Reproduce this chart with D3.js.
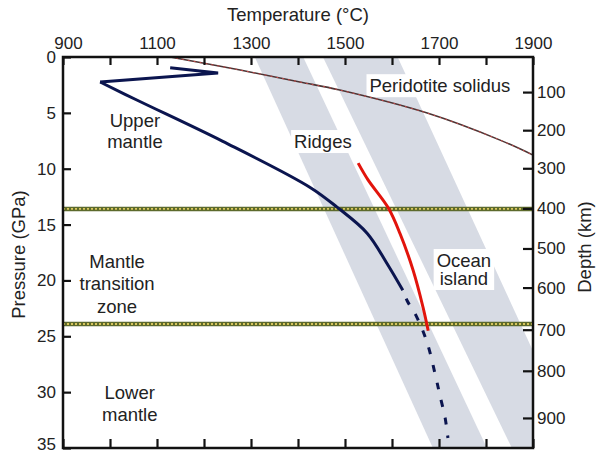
<!DOCTYPE html>
<html>
<head>
<meta charset="utf-8">
<script src="https://cdn.jsdelivr.net/npm/d3@7"></script>
<style>
  body { margin: 0; background: #fff; }
  text { font-family: "Liberation Sans", Arial, sans-serif; fill: #222; }
</style>
</head>
<body>
<svg id="chart" width="596" height="455"></svg>
<script>
"use strict";

// Temperature ticks (top axis), pressure ticks (left axis)
const tempTicks = [900, 1000, 1100, 1200, 1300, 1400, 1500, 1600, 1700, 1800, 1900];
const pressureTicks = [0, 5, 10, 15, 20, 25, 30, 35];

// Depth axis: km and the pressure (GPa) each depth sits at
const depthKm  = [0, 100, 200, 300, 400, 500, 600, 700, 800, 900];
const depthGPa = [0, 3.14, 6.55, 9.96, 13.55, 17.14, 20.64, 24.41, 28.09, 32.31];

// Discontinuities (GPa)
const discontinuities = [13.6, 23.9];

// Navy geotherm: zigzag near the surface, then the adiabat, then the dashed tail
const navyTopT = [1128, 1230, 979];
const navyTopP = [0.96, 1.43, 2.24];
const navyMainT = [979, 1057, 1240, 1425, 1483, 1547, 1589, 1623];
const navyMainP = [2.24, 3.85, 7.55, 11.65, 13.44, 15.77, 18.46, 20.88];
const navyDashT = [1623, 1632, 1653, 1675, 1694, 1702, 1713, 1719];
const navyDashP = [20.88, 21.8, 23.3, 25.6, 28.8, 30.3, 32.3, 34.1];

// Red curve
const redT = [1528, 1549, 1592, 1617, 1645, 1666, 1677];
const redP = [9.5, 11.0, 13.5, 15.8, 19.1, 22.4, 24.5];

// Peridotite solidus
const solidusT = [1128, 1277, 1404, 1489, 1675, 1830, 1900];
const solidusP = [0, 1.17, 2.24, 2.96, 5.02, 7.44, 8.78];

// Grey bands: [T at P=0, T at P=35] for left and right edges
const ridgeBand = { left: [1308, 1687], right: [1411, 1802] };
const oceanBand = { left: [1453, 1855], right: [1612, 1995] };

const svg = d3.select("#chart");
const W = 596, H = 455;
const margin = { top: 57, right: 63, bottom: 7, left: 63 };

const x = d3.scaleLinear().domain([900, 1900]).range([margin.left, W - margin.right]);
const y = d3.scaleLinear().domain([0, 35]).range([margin.top, H - margin.bottom]);
const depthY = d3.scaleLinear().domain(depthKm).range(depthGPa.map(y));

const zip = (a, b) => a.map((v, i) => [v, b[i]]);

svg.append("rect").attr("width", W).attr("height", H).attr("fill", "#fff");

svg.append("clipPath").attr("id", "plot")
  .append("rect")
  .attr("x", x(900)).attr("y", y(0))
  .attr("width", x(1900) - x(900)).attr("height", y(35) - y(0));

const plot = svg.append("g").attr("clip-path", "url(#plot)");

// bands
[ridgeBand, oceanBand].forEach(b => {
  const pts = [[b.left[0], 0], [b.right[0], 0], [b.right[1], 35], [b.left[1], 35]];
  plot.append("path")
    .attr("d", d3.line().x(d => x(d[0])).y(d => y(d[1]))(pts) + "Z")
    .attr("fill", "#d7dbe4");
});

// labels, some with a white box behind them
function label(g, lines, T, P, lh, boxed) {
  const t = g.append("text")
    .attr("text-anchor", "middle")
    .attr("font-size", 18.5);
  lines.forEach((s, i) => {
    t.append("tspan").attr("x", x(T)).attr("y", y(P) + i * lh).text(s);
  });
  if (boxed) {
    const bb = t.node().getBBox();
    g.insert("rect", "text")
      .attr("x", bb.x - 3).attr("y", bb.y - 1)
      .attr("width", bb.width + 6).attr("height", bb.height + 2)
      .attr("fill", "#fff");
  }
  return t;
}

const labels = plot.append("g");
label(labels.append("g"), ["Peridotite solidus"], 1702, 3.15, 20, true);
label(labels.append("g"), ["Ridges"], 1453, 8.15, 20, true);
label(labels.append("g"), ["Ocean", "island"], 1753, 18.8, 18, true);
label(labels.append("g"), ["Upper", "mantle"], 1053, 6.3, 21, false);
label(labels.append("g"), ["Mantle", "transition", "zone"], 1015, 18.85, 22.5, false);
label(labels.append("g"), ["Lower", "mantle"], 1042, 30.6, 22, false);

// discontinuities
discontinuities.forEach(p => {
  plot.append("line")
    .attr("x1", x(900)).attr("x2", x(1900)).attr("y1", y(p)).attr("y2", y(p))
    .attr("stroke", "#5d6a2c").attr("stroke-width", 4.5);
  plot.append("line")
    .attr("x1", x(900)).attr("x2", x(1900)).attr("y1", y(p)).attr("y2", y(p))
    .attr("stroke", "#d8c65c").attr("stroke-width", 1.8)
    .attr("stroke-dasharray", "2,2");
});

const lin = d3.line().x(d => x(d[0])).y(d => y(d[1]));
const smooth = d3.line().x(d => x(d[0])).y(d => y(d[1])).curve(d3.curveCatmullRom);

// solidus
plot.append("path").attr("d", smooth(zip(solidusT, solidusP)))
  .attr("fill", "none").attr("stroke", "#4a3434").attr("stroke-width", 1.6);
plot.append("path").attr("d", smooth(zip(solidusT, solidusP)))
  .attr("fill", "none").attr("stroke", "#d44a4a").attr("stroke-width", 0.9)
  .attr("stroke-dasharray", "2,4");

// navy geotherm
const navy = "#0b154f";
plot.append("path").attr("d", lin(zip(navyTopT, navyTopP)))
  .attr("fill", "none").attr("stroke", navy).attr("stroke-width", 3)
  .attr("stroke-linejoin", "miter");
plot.append("path").attr("d", smooth(zip(navyMainT, navyMainP)))
  .attr("fill", "none").attr("stroke", navy).attr("stroke-width", 3);
plot.append("path").attr("d", smooth(zip(navyDashT, navyDashP)))
  .attr("fill", "none").attr("stroke", navy).attr("stroke-width", 3)
  .attr("stroke-dasharray", "7,11").attr("stroke-dashoffset", -9);

// red
plot.append("path").attr("d", smooth(zip(redT, redP)))
  .attr("fill", "none").attr("stroke", "#e2140c").attr("stroke-width", 3);

// axes
const fmt = d => ((d - 900) % 200 === 0 ? d : "");
const axTop = svg.append("g").attr("transform", `translate(0,${y(0)})`)
  .call(d3.axisTop(x).tickValues(tempTicks).tickFormat(fmt).tickSizeInner(-8).tickSizeOuter(0).tickPadding(8));
const axBottom = svg.append("g").attr("transform", `translate(0,${y(35)})`)
  .call(d3.axisBottom(x).tickValues(tempTicks).tickFormat("").tickSizeInner(-9).tickSizeOuter(0));
const axLeft = svg.append("g").attr("transform", `translate(${x(900)},0)`)
  .call(d3.axisLeft(y).tickValues(pressureTicks).tickSizeInner(-8).tickSizeOuter(0).tickPadding(7));
const axRight = svg.append("g").attr("transform", `translate(${x(1900)},0)`)
  .call(d3.axisRight(depthY).tickValues(depthKm.slice(1)).tickSizeInner(-10).tickSizeOuter(0).tickPadding(4));

[axTop, axBottom, axLeft, axRight].forEach(a => {
  a.select(".domain").remove();
  a.selectAll(".tick line").attr("stroke", "#111").attr("stroke-width", 2.2);
  a.selectAll(".tick text").attr("font-size", 17).attr("font-family", null).attr("fill", "#222");
});

// nudge the corner labels like the original
axTop.selectAll(".tick text").filter(d => d === 900).attr("dx", 5);
axLeft.selectAll(".tick text").filter(d => d === 35).attr("dy", "0.1em");

svg.append("rect")
  .attr("x", x(900)).attr("y", y(0))
  .attr("width", x(1900) - x(900)).attr("height", y(35) - y(0))
  .attr("fill", "none").attr("stroke", "#111").attr("stroke-width", 2.5);

// axis titles
svg.append("text").attr("x", (x(900) + x(1900)) / 2).attr("y", 21)
  .attr("text-anchor", "middle").attr("font-size", 18.5).text("Temperature (°C)");
svg.append("text").attr("transform", `translate(25,${(y(0) + y(35)) / 2 + 2}) rotate(-90)`)
  .attr("text-anchor", "middle").attr("font-size", 18.5).text("Pressure (GPa)");
svg.append("text").attr("transform", `translate(591,247) rotate(-90)`)
  .attr("text-anchor", "middle").attr("font-size", 18.5).text("Depth (km)");
</script>
</body>
</html>
